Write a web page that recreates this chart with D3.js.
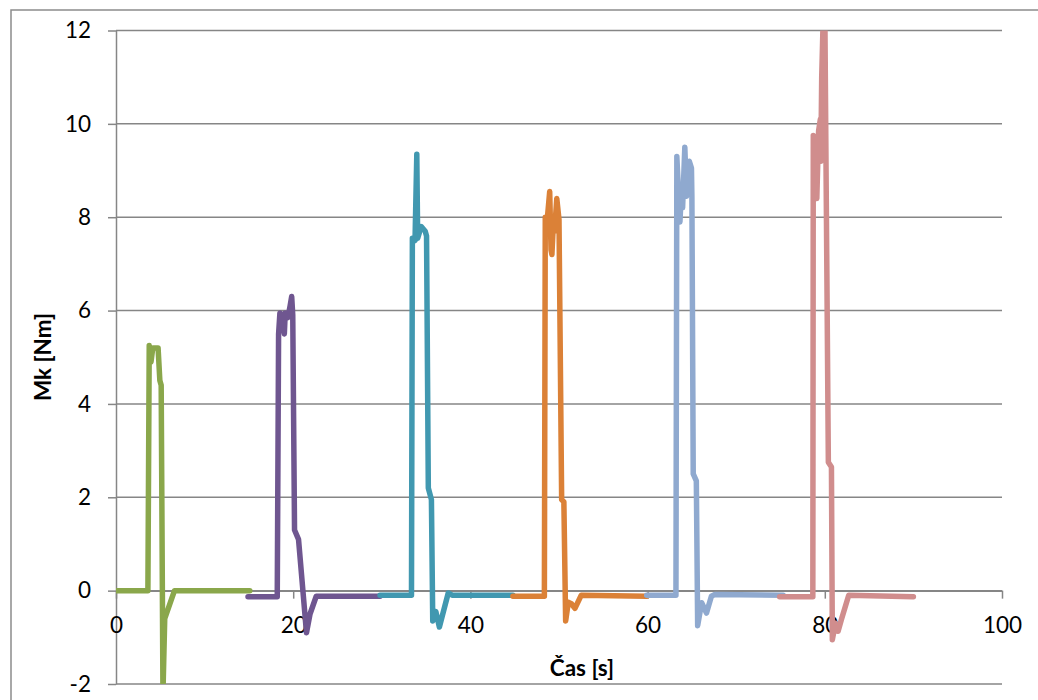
<!DOCTYPE html>
<html>
<head>
<meta charset="utf-8">
<script src="https://cdn.jsdelivr.net/npm/d3@7"></script>
<style>
  body { margin: 0; background: #fff; }
  svg { display: block; font-family: Lato, "Open Sans", sans-serif; }
</style>
</head>
<body>
<div id="graph"></div>
<script>
// data: [time s, torque Nm]
var green = [[0,0],[3.6,0],[3.75,5.25],[3.95,4.9],[4.15,5.2],[4.75,5.2],[4.95,4.5],[5.1,4.4],[5.3,-2.2],[5.5,-0.6],[6.6,0],[15.1,0]];
var purple = [[14.9,-0.13],[18.2,-0.13],[18.35,5.5],[18.5,5.95],[18.75,5.9],[19.0,5.5],[19.1,5.95],[19.4,5.85],[19.65,6.1],[19.83,6.3],[19.95,5.9],[20.15,1.3],[20.6,1.1],[21.5,-0.9],[21.9,-0.5],[22.6,-0.12],[29.8,-0.12]];
var teal = [[29.8,-0.1],[33.35,-0.1],[33.45,7.55],[33.75,7.5],[33.95,9.35],[34.05,7.55],[34.45,7.8],[34.9,7.7],[35.05,7.6],[35.25,2.2],[35.6,1.95],[35.75,-0.65],[36.1,-0.45],[36.5,-0.78],[37.5,-0.05],[38.0,-0.1],[44.8,-0.1]];
var orange = [[44.8,-0.12],[48.35,-0.12],[48.45,8.0],[48.65,7.9],[48.95,8.55],[49.1,7.3],[49.2,7.2],[49.4,8.0],[49.5,7.7],[49.75,8.4],[50.0,7.95],[50.3,1.95],[50.55,1.9],[50.75,-0.65],[51.05,-0.25],[51.4,-0.28],[51.8,-0.38],[52.5,-0.1],[59.9,-0.12]];
var blue = [[59.9,-0.1],[63.2,-0.1],[63.3,9.3],[63.65,7.9],[63.8,8.5],[63.95,8.2],[64.2,9.5],[64.4,8.45],[64.7,9.2],[64.95,9.05],[65.0,8.45],[65.15,2.5],[65.5,2.35],[65.65,-0.75],[66.1,-0.26],[66.65,-0.48],[67.2,-0.12],[67.6,-0.08],[75.3,-0.1]];
var pink = [[74.9,-0.13],[78.65,-0.13],[78.7,9.75],[79.1,8.4],[79.3,9.85],[79.5,10.1],[79.55,9.2],[79.65,11.0],[79.85,12.5],[80.0,12.5],[80.4,2.75],[80.75,2.65],[80.85,-1.05],[81.2,-0.7],[81.5,-0.87],[81.9,-0.6],[82.7,-0.1],[90.0,-0.13]];

var xTicks = [0, 20, 40, 60, 80, 100];
var yTicks = [-2, 0, 2, 4, 6, 8, 10, 12];

var series = [
  {data: green, color: "#8aa74b"},
  {data: purple, color: "#6f5690"},
  {data: teal, color: "#4198b0"},
  {data: orange, color: "#db8137"},
  {data: blue, color: "#8fa9cf"},
  {data: pink, color: "#d08d8d"}
];

var width = 1038, height = 700;

var x = d3.scaleLinear().domain([0, 100]).range([116, 1002]);
var y = d3.scaleLinear().domain([-2, 12]).range([684, 30.5]);

// plain hyphen for negatives, like the original
var fmt = function(d) { return String(d); };

var svg = d3.select("#graph").append("svg")
    .attr("width", width)
    .attr("height", height);

// outer chart border
svg.append("rect")
    .attr("x", 11).attr("y", 10)
    .attr("width", 1060).attr("height", 720)
    .attr("fill", "none")
    .attr("stroke", "#8c8c8c")
    .attr("stroke-width", 1.5);

// horizontal gridlines
svg.append("g").selectAll("line")
    .data(yTicks)
  .enter().append("line")
    .attr("x1", x(0)).attr("x2", x(100))
    .attr("y1", function(d) { return y(d); })
    .attr("y2", function(d) { return y(d); })
    .attr("stroke", "#868686")
    .attr("stroke-width", 1.5);

// y axis
var yAxis = svg.append("g")
    .attr("transform", "translate(" + x(0) + ",0)")
    .call(d3.axisLeft(y).tickValues(yTicks).tickFormat(fmt).tickSize(8).tickSizeOuter(0).tickPadding(17));

// x axis sits on zero
var xAxis = svg.append("g")
    .attr("transform", "translate(0," + y(0) + ")")
    .call(d3.axisBottom(x).tickValues(xTicks).tickFormat(fmt).tickSize(8).tickSizeOuter(0).tickPadding(14));

[yAxis, xAxis].forEach(function(g) {
  g.selectAll("path, line").attr("stroke", "#868686").attr("stroke-width", 1.5);
  g.selectAll("text")
      .attr("fill", "#000")
      .style("font-size", "22.5px")
      .style("font-family", "Lato, 'Open Sans', sans-serif");
});
xAxis.selectAll("text").attr("dy", "0.9em");

// clip lines to the plot area
svg.append("clipPath").attr("id", "plot")
  .append("rect")
    .attr("x", x(0)).attr("y", y(12))
    .attr("width", x(100) - x(0))
    .attr("height", y(-2) - y(12));

var line = d3.line()
    .x(function(d) { return x(d[0]); })
    .y(function(d) { return y(d[1]); });

svg.append("g").attr("clip-path", "url(#plot)")
  .selectAll("path")
    .data(series)
  .enter().append("path")
    .attr("d", function(d) { return line(d.data); })
    .attr("fill", "none")
    .attr("stroke", function(d) { return d.color; })
    .attr("stroke-width", 5.5)
    .attr("stroke-linejoin", "round")
    .attr("stroke-linecap", "round");

// axis titles
svg.append("text")
    .attr("transform", "translate(51,357) rotate(-90)")
    .attr("text-anchor", "middle")
    .style("font-size", "22.5px")
    .style("font-weight", "bold")
    .text("Mk [Nm]");

svg.append("text")
    .attr("x", 582).attr("y", 676)
    .attr("text-anchor", "middle")
    .style("font-size", "22.5px")
    .style("font-weight", "bold")
    .text("Čas [s]");
</script>
</body>
</html>
